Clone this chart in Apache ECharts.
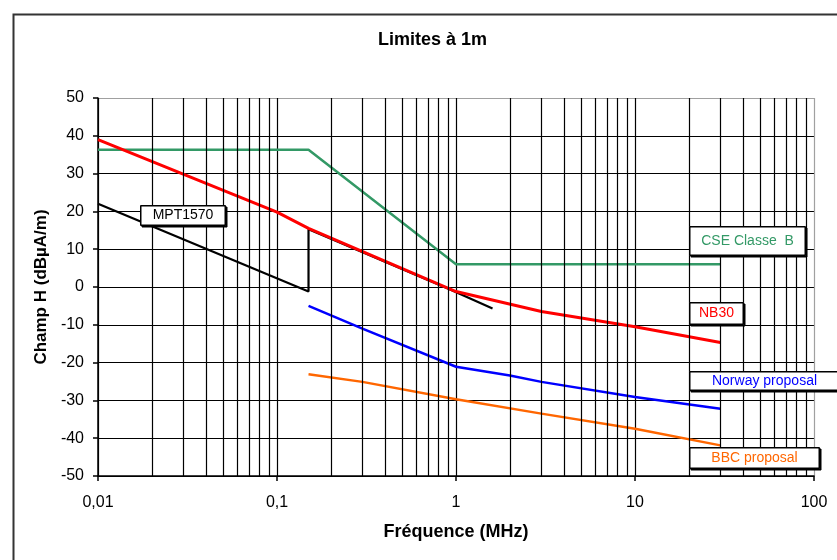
<!DOCTYPE html>
<html>
<head>
<meta charset="utf-8">
<script src="https://cdn.jsdelivr.net/npm/echarts@6/dist/echarts.min.js"></script>
<style>
html,body{margin:0;padding:0;background:#fff;}
#chart{width:837px;height:560px;}
</style>
</head>
<body>
<div id="chart"></div>
<script>
// ---- data ----
const xTickLabels = ['0,01', '0,1', '1', '10', '100'];

const mptFreq = [0.01, 0.15, 0.15, 0.9, 1.6];
const mptVal  = [22.0, -1.2, 15.3, -0.4, -5.7];

const cseFreq = [0.01, 0.15, 1, 30];
const cseVal  = [36.3, 36.3, 6.0, 6.0];

const nb30Freq = [0.01, 0.1, 0.15, 1, 3, 10, 30];
const nb30Val  = [39.0, 19.8, 15.5, -1.2, -6.5, -10.5, -14.7];

const norwayFreq = [0.15, 0.3, 1, 2, 3, 10, 30];
const norwayVal  = [-5.0, -11.0, -21.1, -23.4, -25.1, -29.1, -32.2];

const bbcFreq = [0.15, 0.3, 1, 3, 10, 30];
const bbcVal  = [-23.1, -25.1, -29.7, -33.5, -37.5, -41.9];

// ---- helpers ----
function pairs(f, v) { return f.map((x, i) => [x, v[i]]); }

// minor vertical grid lines at 2..9 of each decade
const minorLines = [];
[0.01, 0.1, 1, 10].forEach(d => {
  for (let k = 2; k <= 9; k++) minorLines.push({ xAxis: +(k * d).toPrecision(3) });
});

const ySplitColors = [];
for (let i = 0; i < 10; i++) ySplitColors.push('#000');
ySplitColors.push('#a0a0a0');
const xSplitColors = ['#000', '#000', '#000', '#000', '#a0a0a0'];

const FONT = '"Liberation Sans", Arial, sans-serif';

function labelBox(x, y, w, h, text, color) {
  return {
    type: 'group', left: x, top: y, z: 100,
    children: [
      { type: 'rect', z: 100, shape: { x: 0, y: 0, width: w, height: h },
        style: { fill: '#fff', stroke: '#000', lineWidth: 1,
                 shadowColor: '#000', shadowOffsetX: 1.5, shadowOffsetY: 1.5, shadowBlur: 0 } },
      { type: 'rect', z: 101, shape: { x: 0.5, y: 0.5, width: w - 1, height: h - 1 },
        style: { fill: '#fff', stroke: '#000', lineWidth: 1 } },
      { type: 'text', z: 102, x: w / 2, y: h / 2,
        style: { text: text, fill: color, font: '14px ' + FONT, align: 'center', verticalAlign: 'middle' } }
    ]
  };
}

const chart = echarts.init(document.getElementById('chart'), null, { renderer: 'canvas' });

const lineBase = { type: 'line', showSymbol: false, symbol: 'none', smooth: false, silent: true };

chart.setOption({
  animation: false,
  backgroundColor: '#fff',
  title: {
    text: 'Limites à 1m',
    left: 373, top: 26,
    textStyle: { fontFamily: FONT, fontSize: 18, fontWeight: 'bold', color: '#000' }
  },
  grid: { left: 98, top: 98, right: 23, bottom: 84, containLabel: false },
  xAxis: {
    type: 'log', logBase: 10, min: 0.01, max: 100, splitNumber: 4,
    name: 'Fréquence (MHz)', nameLocation: 'middle', nameGap: 47,
    nameTextStyle: { fontFamily: FONT, fontSize: 18, fontWeight: 'bold', color: '#000' },
    axisLine: { show: true, onZero: false, lineStyle: { color: '#000', width: 1.5 } },
    axisTick: { show: true, inside: false, length: 5, lineStyle: { color: '#000', width: 1.5 } },
    axisLabel: {
      margin: 19, fontFamily: FONT, fontSize: 16, color: '#000',
      formatter: v => xTickLabels[Math.round(Math.log10(v)) + 2]
    },
    splitLine: { show: true, lineStyle: { color: xSplitColors, width: 1.2 } },
    minorTick: { show: false }, minorSplitLine: { show: false }
  },
  yAxis: {
    type: 'value', min: -50, max: 50, interval: 10,
    name: 'Champ H (dBµA/m)', nameLocation: 'middle', nameGap: 48, nameRotate: 90,
    nameTextStyle: { fontFamily: FONT, fontSize: 17, fontWeight: 'bold', color: '#000' },
    axisLine: { show: true, onZero: false, lineStyle: { color: '#000', width: 1.5 } },
    axisTick: { show: true, inside: false, length: 5, lineStyle: { color: '#000', width: 1.5 } },
    axisLabel: { margin: 14, fontFamily: FONT, fontSize: 16, color: '#000' },
    splitLine: { show: true, lineStyle: { color: ySplitColors, width: 1.2 } }
  },
  series: [
    Object.assign({}, lineBase, {
      name: 'grid', data: [], z: 1,
      markLine: {
        silent: true, symbol: ['none', 'none'], label: { show: false },
        lineStyle: { color: '#000', width: 1.2, type: 'solid' },
        emphasis: { disabled: true },
        data: minorLines
      }
    }),
    Object.assign({}, lineBase, { name: 'MPT1570', data: pairs(mptFreq, mptVal),
      lineStyle: { color: '#000', width: 2.2 }, itemStyle: { color: '#000' } }),
    Object.assign({}, lineBase, { name: 'CSE Classe B', data: pairs(cseFreq, cseVal),
      lineStyle: { color: '#339966', width: 2.5 }, itemStyle: { color: '#339966' } }),
    Object.assign({}, lineBase, { name: 'NB30', data: pairs(nb30Freq, nb30Val),
      lineStyle: { color: '#ff0000', width: 3 }, itemStyle: { color: '#ff0000' } }),
    Object.assign({}, lineBase, { name: 'Norway proposal', data: pairs(norwayFreq, norwayVal),
      lineStyle: { color: '#0000ff', width: 2.5 }, itemStyle: { color: '#0000ff' } }),
    Object.assign({}, lineBase, { name: 'BBC proposal', data: pairs(bbcFreq, bbcVal),
      lineStyle: { color: '#ff6600', width: 2.5 }, itemStyle: { color: '#ff6600' } })
  ],
  graphic: [
    { type: 'rect', left: 11, top: 12, z: 0, silent: true,
      shape: { x: 0, y: 0, width: 900, height: 620 },
      style: { fill: 'none', stroke: '#333', lineWidth: 2 } },
    labelBox(140, 205, 85, 20, 'MPT1570', '#000'),
    labelBox(689, 226, 116, 29, 'CSE Classe  B', '#339966'),
    labelBox(689, 302, 54, 22, 'NB30', '#ff0000'),
    labelBox(689, 371, 150, 19, 'Norway proposal', '#0000ff'),
    labelBox(689, 447, 130, 21, 'BBC proposal', '#ff6600')
  ]
});
</script>
</body>
</html>
